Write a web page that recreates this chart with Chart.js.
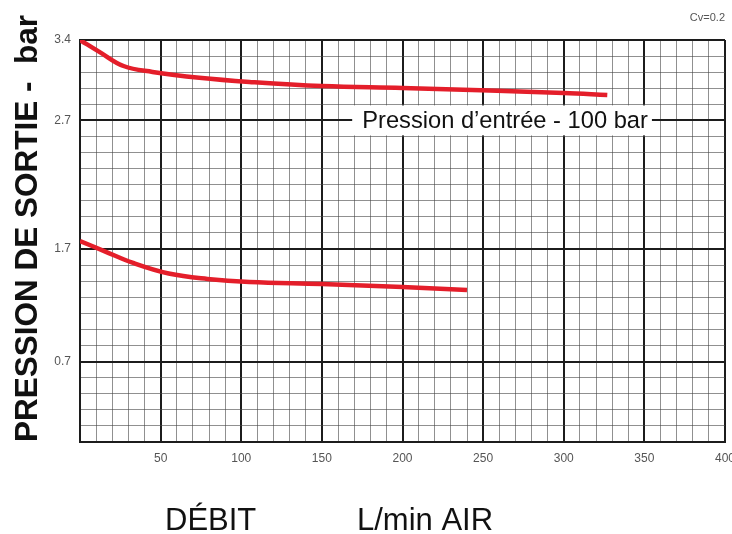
<!DOCTYPE html>
<html>
<head>
<meta charset="utf-8">
<script src="https://cdn.jsdelivr.net/npm/chart.js@4.4.0/dist/chart.umd.min.js"></script>
<style>
html, body { margin: 0; padding: 0; background: #fff; }
canvas { display: block; }
</style>
</head>
<body>
<canvas id="graficoPression" width="732" height="534"></canvas>
<script>
var debitHaut = [0, 12, 27, 45, 74, 105, 150, 200, 254, 300, 327];
var pressionHaut = [3.40, 3.30, 3.18, 3.13, 3.08, 3.045, 3.01, 2.994, 2.973, 2.952, 2.935];
var debitBas = [0, 15, 33, 55, 79, 105, 150, 200, 240];
var pressionBas = [1.70, 1.615, 1.514, 1.425, 1.379, 1.353, 1.336, 1.311, 1.285];

var yLabels = ['0.7', '1.7', '2.7', '3.4'];
var yLignesMajeures = [5, 12, 20, 25]; // rang de grille (depuis le bas) de chaque étiquette
var yRangees = 25;
var yMax = 3.4;
var xMax = 400;

var rouge = 'rgb(228,30,42)';
var noirGrille = '#1c1c1c';
var grisGrille = 'rgba(70,70,70,0.6)';

function toPoints(xs, ys) {
    return xs.map(function (x, i) { return { x: x, y: ys[i] }; });
}

var dataPression = {
    datasets: [{
        label: 'Pression d’entrée - 100 bar',
        data: toPoints(debitHaut, pressionHaut),
        borderColor: rouge,
        borderWidth: 4.5,
        pointRadius: 0,
        tension: 0.4
    }, {
        label: 'bas',
        data: toPoints(debitBas, pressionBas),
        borderColor: rouge,
        borderWidth: 4.5,
        pointRadius: 0,
        tension: 0.4
    }]
};

// textes autour du graphique (titres, Cv, étiquette de courbe)
var textesPlugin = {
    id: 'textes',
    afterDatasetsDraw: function (chart) {
        var ctx = chart.ctx;
        var yScale = chart.scales.y;
        var xScale = chart.scales.x;
        ctx.save();

        // étiquette de la courbe, sur la ligne 2.7
        ctx.font = '23.7px "Liberation Sans", Arial, sans-serif';
        var txt = 'Pression d’entrée - 100 bar';
        var w = ctx.measureText(txt).width;
        var yMid = yScale.getPixelForValue(yLignesMajeures[2] * yMax / yRangees);
        var xLeft = xScale.getPixelForValue(175);
        ctx.fillStyle = '#fff';
        ctx.fillRect(xLeft - 10, yMid - 15, w + 14, 30);
        ctx.fillStyle = '#111';
        ctx.textBaseline = 'middle';
        ctx.textAlign = 'left';
        ctx.fillText(txt, xLeft, yMid + 1);
        ctx.restore();
    },
    afterDraw: function (chart) {
        var ctx = chart.ctx;
        var area = chart.chartArea;
        ctx.save();
        ctx.fillStyle = '#555';
        ctx.font = '11px "Liberation Sans", Arial, sans-serif';
        ctx.textAlign = 'right';
        ctx.textBaseline = 'middle';
        ctx.fillText('Cv=0.2', area.right, 18);

        // titre axe x
        ctx.fillStyle = '#111';
        ctx.font = '31px "Liberation Sans", Arial, sans-serif';
        ctx.textAlign = 'left';
        ctx.textBaseline = 'alphabetic';
        ctx.fillText('DÉBIT', 165, 530);
        ctx.fillText('L/min AIR', 357, 530);

        // titre axe y
        ctx.font = 'bold 31.5px "Liberation Sans", Arial, sans-serif';
        ctx.translate(37, 442);
        ctx.rotate(-Math.PI / 2);
        ctx.fillText('PRESSION DE SORTIE -  bar', 0, 0);
        ctx.restore();
    }
};

var optionsPression = {
    responsive: false,
    animation: false,
    layout: { padding: { top: 40, right: 7, left: 0, bottom: 0 } },
    plugins: {
        legend: { display: false },
        tooltip: { enabled: false }
    },
    scales: {
        x: {
            type: 'linear',
            min: 0,
            max: xMax,
            ticks: {
                stepSize: 10,
                autoSkip: false,
                maxRotation: 0,
                padding: 9,
                color: '#555',
                font: { size: 12, family: '"Liberation Sans", Arial, sans-serif' },
                callback: function (v) { return (v % 50 === 0 && v > 0) ? v : ''; }
            },
            grid: {
                drawTicks: false,
                color: function (c) { return c.tick.value % 50 === 0 ? noirGrille : grisGrille; },
                lineWidth: function (c) { return c.tick.value % 50 === 0 ? 2 : 1; }
            },
            border: { display: true, color: noirGrille, width: 2 },
            afterFit: function (scale) {
                scale.height = 92;
                scale.paddingLeft = 0;
                scale.paddingRight = 0;
            }
        },
        y: {
            type: 'linear',
            min: 0,
            max: yMax,
            afterBuildTicks: function (scale) {
                var t = [];
                for (var k = 0; k <= yRangees; k++) t.push({ value: k * yMax / yRangees });
                scale.ticks = t;
            },
            ticks: {
                autoSkip: false,
                padding: 9,
                color: '#555',
                font: { size: 12, family: '"Liberation Sans", Arial, sans-serif' },
                callback: function (v, i) {
                    var j = yLignesMajeures.indexOf(i);
                    return j >= 0 ? yLabels[j] : '';
                }
            },
            grid: {
                drawTicks: false,
                color: function (c) { return yLignesMajeures.indexOf(c.index) >= 0 ? noirGrille : grisGrille; },
                lineWidth: function (c) { return yLignesMajeures.indexOf(c.index) >= 0 ? 2 : 1; }
            },
            border: { display: true, color: noirGrille, width: 2 },
            afterFit: function (scale) {
                scale.width = 80;
                scale.paddingTop = 0;
                scale.paddingBottom = 0;
            }
        }
    }
};

var graficoPression = new Chart(document.getElementById('graficoPression').getContext('2d'), {
    type: 'line',
    data: dataPression,
    options: optionsPression,
    plugins: [textesPlugin]
});
</script>
</body>
</html>
